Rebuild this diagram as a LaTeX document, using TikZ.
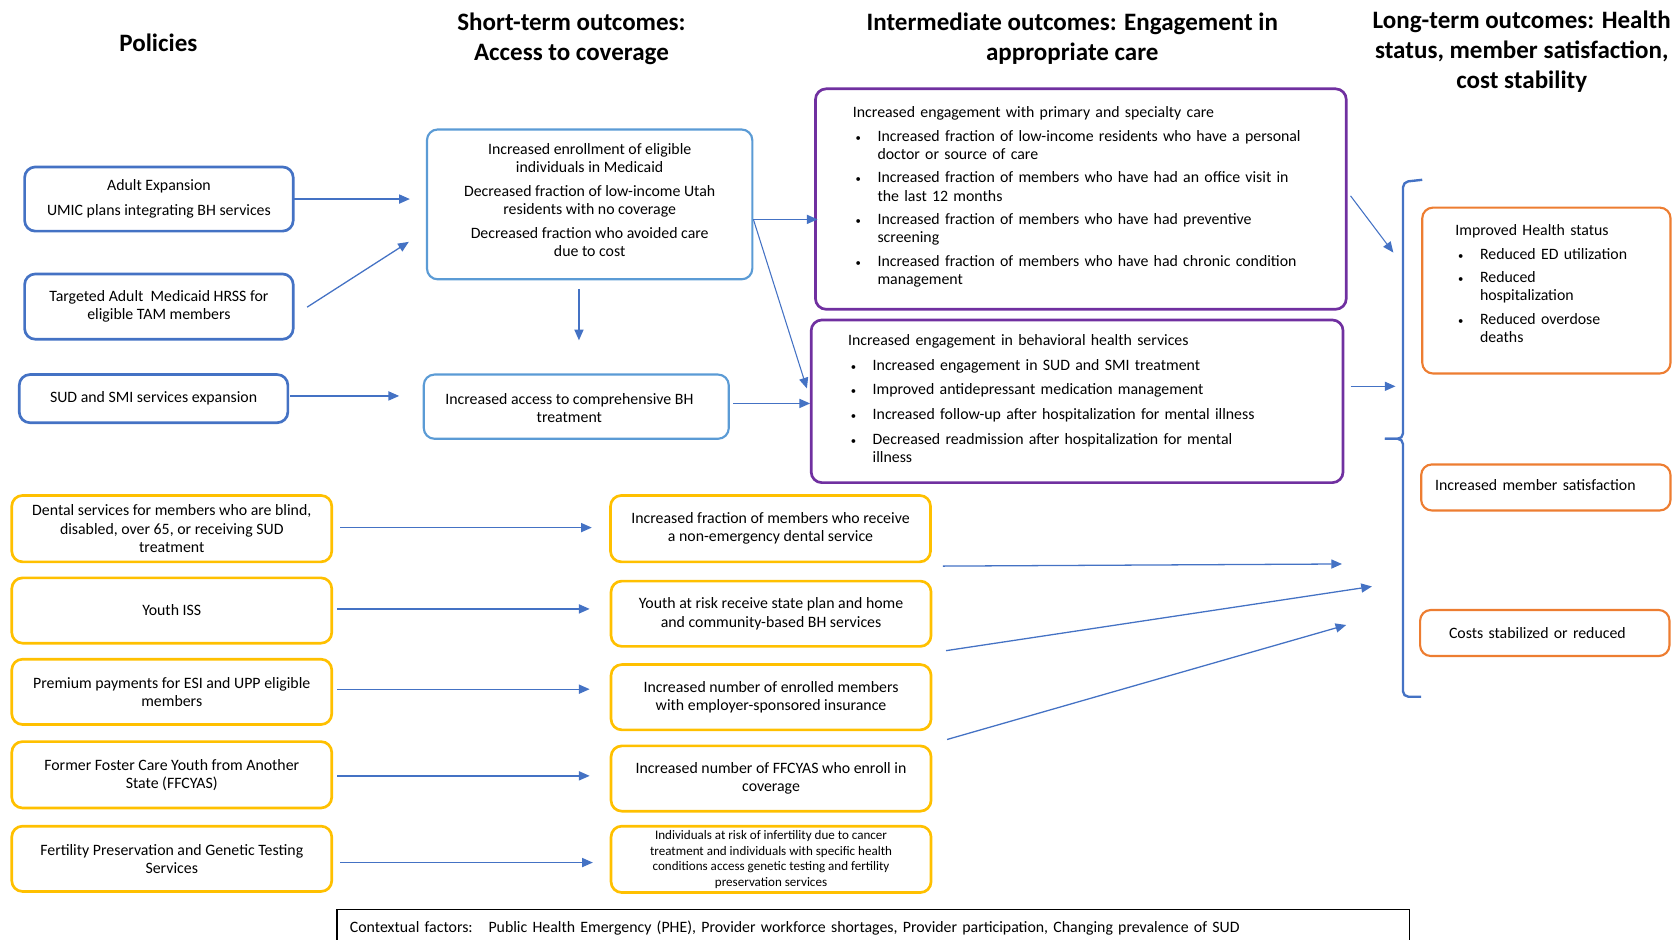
\documentclass[tikz,border=0pt]{standalone}
\usepackage{fontspec}
\setmainfont{Carlito}
\usetikzlibrary{arrows.meta}
\definecolor{pblue}{HTML}{4472C4}
\definecolor{sblue}{HTML}{5B9BD5}
\definecolor{purp}{HTML}{7030A0}
\definecolor{orng}{HTML}{ED7D31}
\definecolor{yell}{HTML}{FFC000}
\newcommand\bodyfont{\fontsize{14.8}{17}\selectfont}
\newcommand\smallbody{\fontsize{12.2}{14.5}\selectfont}
\newcommand\titlefont{\fontsize{23.4}{28}\selectfont\bfseries}
\newcommand\bitem[1]{\par\hangindent=23pt\hangafter=1\noindent\hbox to 23pt{\hspace{2.5pt}{\fontsize{10}{10}\selectfont\textbullet}\hfil}#1}
\begin{document}
\begin{tikzpicture}[x=1pt,y=-1pt,
  box/.style={rounded corners=10pt, line width=2pt, inner sep=2pt, align=center, font=\bodyfont},
  polbox/.style={box, draw=pblue, line width=2.5pt},
  stbox/.style={box, draw=sblue},
  intbox/.style={box, draw=purp, line width=2.5pt},
  ltbox/.style={box, draw=orng},
  yelbox/.style={box, draw=yell, line width=2.5pt, minimum width=299pt, minimum height=61pt},
  txt/.style={inner sep=0pt, align=center, font=\bodyfont},
  ltxt/.style={inner sep=0pt, align=left, font=\bodyfont},
  title/.style={font=\titlefont, align=center},
  arr/.style={draw=pblue, line width=1.2pt, -{Triangle[length=10pt,width=8.5pt]}},
  brace/.style={draw=pblue, line width=2.2pt, rounded corners=5pt}
]
\useasboundingbox (0,0) rectangle (1568,878);

% titles
\node[title] (t1) at (148,40) {Policies};
\node[title] (t2) at (534,36) {Short-term outcomes:\\Access to coverage};
\node[title] (t3) at (1002,36) {Intermediate outcomes: Engagement in\\appropriate care};
\node[title] (t4) at (1422,48) {Long-term outcomes: Health\\status, member satisfaction,\\cost stability};

% policy boxes
\node[polbox, minimum width=251pt, minimum height=60pt] (p1) at (148.5,186)
  {Adult Expansion\\[6pt]UMIC plans integrating BH services};
\node[polbox, minimum width=251pt, minimum height=61pt] (p2) at (148.5,286.5)
  {Targeted Adult\ \ Medicaid HRSS for\\eligible TAM members};
\node[polbox, minimum width=251pt, minimum height=45pt] (p3) at (143.5,372.5)
  {SUD and SMI services expansion};

% short-term boxes
\node[stbox, minimum width=304pt, minimum height=140pt] (s1) at (551,191) {};
\node[txt] (s1t) at (551,187)
  {Increased enrollment of eligible\\individuals in Medicaid\\[5.5pt]Decreased fraction of low-income Utah\\residents with no coverage\\[5pt]Decreased fraction who avoided care\\due to cost};
\node[stbox, minimum width=285pt, minimum height=60pt] (s2) at (538.5,380) {};
\node[txt] (s2t) at (532,381) {Increased access to comprehensive BH\\treatment};

% intermediate boxes
\node[intbox, minimum width=496pt, minimum height=206pt] (i1) at (1010,186) {};
\node[ltxt, text width=426pt] (i1t) at (1010,184)
  {\setlength\parskip{5pt}Increased engagement with primary and specialty care
   \bitem{Increased fraction of low-income residents who have a personal\newline doctor or source of care}
   \bitem{Increased fraction of members who have had an office visit in\newline the last 12 months}
   \bitem{Increased fraction of members who have had preventive\newline screening}
   \bitem{Increased fraction of members who have had chronic condition\newline management}\par};
\node[intbox, minimum width=497pt, minimum height=152pt] (i2) at (1006.5,375) {};
\node[ltxt, text width=428pt] (i2t) at (1006.5,372.5)
  {\setlength\parskip{6pt}Increased engagement in behavioral health services
   \bitem{Increased engagement in SUD and SMI treatment}
   \bitem{Improved antidepressant medication management}
   \bitem{Increased follow-up after hospitalization for mental illness}
   \bitem{Decreased readmission after hospitalization for mental\newline illness}\par};

% long-term boxes
\node[ltbox, minimum width=232pt, minimum height=155pt] (l1) at (1445,271.5) {};
\node[ltxt, text width=170pt] (l1t) at (1445,265)
  {\setlength\parskip{5pt}Improved Health status
   \bitem{Reduced ED utilization}
   \bitem{Reduced\newline hospitalization}
   \bitem{Reduced overdose\newline deaths}\par};
\node[ltbox, minimum width=233pt, minimum height=43pt] (l2) at (1444.5,455.5) {};
\node[ltxt, text width=207pt] (l2t) at (1444.5,453.5) {Increased member satisfaction};
\node[ltbox, minimum width=233pt, minimum height=43pt] (l3) at (1443.5,591.5) {};
\node[ltxt, text width=179pt] (l3t) at (1443.5,591.5) {Costs stabilized or reduced};

% yellow policy boxes
\node[yelbox, minimum height=62pt] (y1) at (160.5,494)
  {Dental services for members who are blind,\\disabled, over 65, or receiving SUD\\treatment};
\node[yelbox] (y2) at (160.5,570.5) {Youth ISS};
\node[yelbox] (y3) at (160.5,646.5) {Premium payments for ESI and UPP eligible\\members};
\node[yelbox, minimum height=62pt] (y4) at (160.5,724) {Former Foster Care Youth from Another\\State (FFCYAS)};
\node[yelbox] (y5) at (160.5,802.5) {Fertility Preservation and Genetic Testing\\Services};

% yellow outcome boxes
\node[yelbox, minimum height=62pt] (z1) at (720,494)
  {Increased fraction of members who receive\\a non-emergency dental service};
\node[yelbox] (z2) at (720.5,573.5) {Youth at risk receive state plan and home\\and community-based BH services};
\node[yelbox] (z3) at (720.5,651.5) {Increased number of enrolled members\\with employer-sponsored insurance};
\node[yelbox] (z4) at (720.5,727.5) {Increased number of FFCYAS who enroll in\\coverage};
\node[yelbox, minimum height=62pt, font=\smallbody] (z5) at (720.5,803)
  {Individuals at risk of infertility due to cancer\\treatment and individuals with specific health\\conditions access genetic testing and fertility\\preservation services};

% context box
\node[draw=black, line width=1.3pt, minimum width=1002pt, minimum height=34pt, text width=978pt,
  align=left, inner sep=0pt, font=\bodyfont] (ctx) at (816,867)
  {Contextual factors:\ \ \ Public Health Emergency (PHE), Provider workforce shortages, Provider participation, Changing prevalence of SUD};

% brace
\coordinate (bt) at (1329,168);
\coordinate (bm) at (1294,410);
\coordinate (bb) at (1328,651);
\draw[brace] (bt) -- (1311,170) -- (1311,410) -- (bm);
\draw[brace] (bm) -- (1311,410) -- (1311,651) -- (bb);

% arrow end points
\coordinate (a1s) at (275,186);  \coordinate (a1e) at (383,186);
\coordinate (a2s) at (287,287);  \coordinate (a2e) at (382,226);
\coordinate (a3s) at (271,370);  \coordinate (a3e) at (373,370);
\coordinate (a4s) at (541,270);  \coordinate (a4e) at (541,318);
\coordinate (a5s) at (704,205);  \coordinate (a5e) at (764,205);
\coordinate (a6e) at (754,363);
\coordinate (a7s) at (685,377);  \coordinate (a7e) at (757,377);
\coordinate (a8s) at (1262,183); \coordinate (a8e) at (1302,236);
\coordinate (a9s) at (1262,361); \coordinate (a9e) at (1304,361);
\coordinate (b1s) at (318,493);  \coordinate (b1e) at (553,493);
\coordinate (b2s) at (315,569);  \coordinate (b2e) at (551,569);
\coordinate (b3s) at (315,644);  \coordinate (b3e) at (551,644);
\coordinate (b4s) at (315,725);  \coordinate (b4e) at (551,725);
\coordinate (b5s) at (318,806);  \coordinate (b5e) at (554,806);
\coordinate (c1s) at (881,529);  \coordinate (c1e) at (1254,527);
\coordinate (c2s) at (884,608);  \coordinate (c2e) at (1282,548);
\coordinate (c3s) at (885,691);  \coordinate (c3e) at (1258,584);

\draw[arr] (a1s) -- (a1e);
\draw[arr] (a2s) -- (a2e);
\draw[arr] (a3s) -- (a3e);
\draw[arr] (a4s) -- (a4e);
\draw[arr] (a5s) -- (a5e);
\draw[arr, line width=1pt] (a5s) -- (a6e);
\draw[arr] (a7s) -- (a7e);
\draw[arr, line width=1pt] (a8s) -- (a8e);
\draw[arr] (a9s) -- (a9e);
\draw[arr] (b1s) -- (b1e);
\draw[arr] (b2s) -- (b2e);
\draw[arr] (b3s) -- (b3e);
\draw[arr] (b4s) -- (b4e);
\draw[arr] (b5s) -- (b5e);
\draw[arr] (c1s) -- (c1e);
\draw[arr] (c2s) -- (c2e);
\draw[arr] (c3s) -- (c3e);
\end{tikzpicture}
\end{document}
